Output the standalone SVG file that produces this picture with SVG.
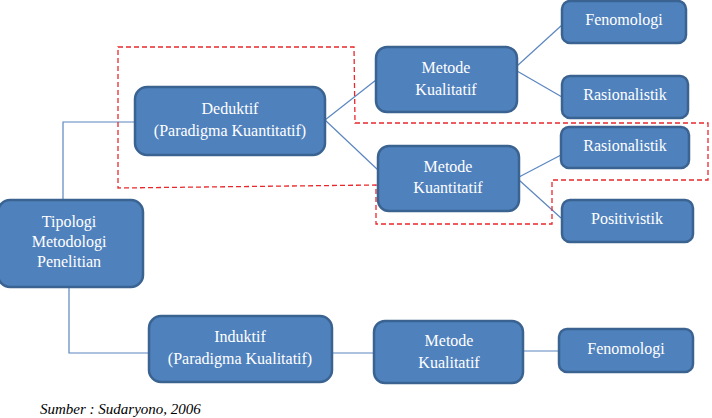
<svg xmlns="http://www.w3.org/2000/svg" width="712" height="418" viewBox="0 0 712 418">
<style>
.box{fill:#4f81bd;stroke:#3a6391;stroke-width:2.5}
.t{font-family:"Liberation Serif","Times New Roman",serif;font-size:16px;fill:#ffffff;text-anchor:middle}
.c{fill:none;stroke:#5b86c0;stroke-width:1.2}
.d{fill:none;stroke:#e8282c;stroke-width:1.3;stroke-dasharray:5 3}
.cap{font-family:"Liberation Serif","Times New Roman",serif;font-size:15px;font-style:italic;fill:#000}
</style>
<rect width="712" height="418" fill="#ffffff"/>
<g id="connectors">
<polyline class="c" points="63,200 63,122 135,122"/>
<polyline class="c" points="69,287 69,353 149,353"/>
<line class="c" x1="325" y1="120" x2="376" y2="80"/>
<line class="c" x1="325" y1="120" x2="378" y2="170"/>
<line class="c" x1="517" y1="66" x2="562" y2="25"/>
<line class="c" x1="517" y1="71" x2="562" y2="97"/>
<line class="c" x1="519" y1="177" x2="561" y2="155"/>
<line class="c" x1="519" y1="180" x2="561" y2="218"/>
<line class="c" x1="332" y1="353" x2="374" y2="353"/>
<line class="c" x1="523" y1="351" x2="559" y2="351"/>
</g>
<g id="highlight">
<polygon class="d" points="118,47 354,47 355,123 708,123 708,180 552,180 552,224 376,224 376,185 118,188"/>
</g>
<g id="tipologi"><rect class="box" x="-2" y="200" width="145" height="87" rx="12"/>
<text class="t" x="69" y="227">Tipologi</text><text class="t" x="69" y="247">Metodologi</text><text class="t" x="69" y="267">Penelitian</text></g>
<g id="deduktif"><rect class="box" x="135" y="87" width="190" height="68" rx="12"/>
<text class="t" x="230" y="114">Deduktif</text><text class="t" x="230" y="136">(Paradigma Kuantitatif)</text></g>
<g id="induktif"><rect class="box" x="149" y="316" width="183" height="66" rx="12"/>
<text class="t" x="240" y="342">Induktif</text><text class="t" x="240" y="364">(Paradigma Kualitatif)</text></g>
<g id="metode-kualitatif-1"><rect class="box" x="376" y="47" width="141" height="65" rx="11"/>
<text class="t" x="446" y="73">Metode</text><text class="t" x="446" y="95">Kualitatif</text></g>
<g id="metode-kuantitatif"><rect class="box" x="378" y="146" width="141" height="65" rx="11"/>
<text class="t" x="448" y="172">Metode</text><text class="t" x="448" y="193">Kuantitatif</text></g>
<g id="metode-kualitatif-2"><rect class="box" x="374" y="321" width="149" height="62" rx="11"/>
<text class="t" x="449" y="346">Metode</text><text class="t" x="449" y="368">Kualitatif</text></g>
<g id="fenomologi-1"><rect class="box" x="562" y="1" width="124" height="42" rx="8"/>
<text class="t" x="624" y="25">Fenomologi</text></g>
<g id="rasionalistik-1"><rect class="box" x="562" y="76" width="126" height="42" rx="8"/>
<text class="t" x="625" y="100">Rasionalistik</text></g>
<g id="rasionalistik-2"><rect class="box" x="561" y="127" width="128" height="41" rx="8"/>
<text class="t" x="625" y="151">Rasionalistik</text></g>
<g id="positivistik"><rect class="box" x="562" y="200" width="131" height="42" rx="8"/>
<text class="t" x="627" y="224">Positivistik</text></g>
<g id="fenomologi-2"><rect class="box" x="559" y="329" width="134" height="43" rx="8"/>
<text class="t" x="626" y="354">Fenomologi</text></g>
<text class="cap" x="40" y="414">Sumber : Sudaryono, 2006</text>
</svg>
